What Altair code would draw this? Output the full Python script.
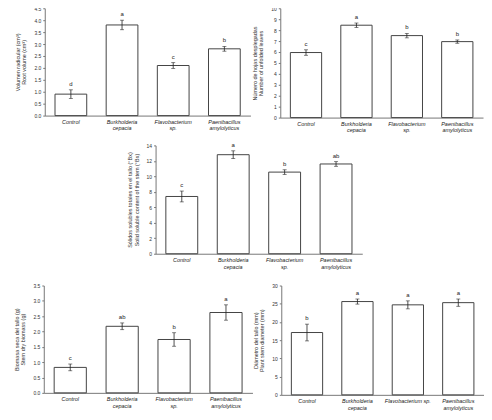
import altair as alt
import pandas as pd

FONT = "Liberation Sans"

labels_a = ["Control", "Burkholderia|cepacia", "Flavobacterium|sp.", "Paenibacillus|amylolyticus"]
labels_b = ["Control", "Burkholderia|cepacia", "Flavobacterium sp.", "Paenibacillus|amylolyticus"]

root_vol = [0.9, 3.8, 2.1, 2.8]
root_err = [0.18, 0.2, 0.12, 0.1]
root_let = ["d", "a", "c", "b"]

leaves = [5.95, 8.45, 7.5, 6.95]
leaves_err = [0.25, 0.2, 0.2, 0.15]
leaves_let = ["c", "a", "b", "b"]

brix = [7.4, 12.8, 10.55, 11.6]
brix_err = [0.7, 0.5, 0.3, 0.3]
brix_let = ["c", "a", "b", "ab"]

biomass = [0.83, 2.17, 1.74, 2.62]
biomass_err = [0.11, 0.11, 0.22, 0.25]
biomass_let = ["c", "ab", "b", "a"]

diam = [17.1, 25.6, 24.7, 25.3]
diam_err = [2.3, 0.7, 1.1, 1.0]
diam_let = ["b", "a", "a", "a"]

y_ticks = {
    "root": [0, 0.5, 1, 1.5, 2, 2.5, 3, 3.5, 4, 4.5],
    "leaves": [0, 1, 2, 3, 4, 5, 6, 7, 8, 9, 10],
    "brix": [0, 2, 4, 6, 8, 10, 12, 14],
    "biomass": [0, 0.5, 1, 1.5, 2, 2.5, 3, 3.5],
    "diam": [0, 5, 10, 15, 20, 25, 30],
}


def panel(labels, vals, errs, lets, title, ticks, width, height):
    df = pd.DataFrame({
        "cat": labels,
        "v": vals,
        "lo": [v - e for v, e in zip(vals, errs)],
        "hi": [v + e for v, e in zip(vals, errs)],
        "let": lets,
    })
    dmax = ticks[-1]
    xscale = alt.Scale(paddingInner=0.38, paddingOuter=0.2)
    yscale = alt.Scale(domain=[0, dmax], nice=False)
    xaxis = alt.Axis(labelAngle=0, labelFont=FONT, labelFontSize=5.5,
                     labelFontStyle="italic", labelColor="#222",
                     labelExpr="split(datum.label, '|')",
                     ticks=False, domainColor="#777", labelPadding=4,
                     labelLineHeight=6.5, labelOverlap=False)
    yaxis = alt.Axis(values=ticks, grid=False, labelOverlap=False,
                     labelFont=FONT, labelFontSize=5, labelColor="#333",
                     tickSize=2, tickColor="#777", domainColor="#777",
                     labelPadding=2, titleFont=FONT, titleFontSize=5.5,
                     titleFontWeight="normal", titleColor="#333",
                     titlePadding=7, titleLineHeight=6.5)
    x = alt.X("cat:N", sort=labels, title=None, scale=xscale, axis=xaxis)
    y = alt.Y("v:Q", title=title, scale=yscale, axis=yaxis)
    ylo = alt.Y("lo:Q", title=title, scale=yscale, axis=yaxis)
    yhi = alt.Y("hi:Q", title=title, scale=yscale, axis=yaxis)
    base = alt.Chart(df)
    bars = base.mark_bar(fill="white", stroke="#444", strokeWidth=1).encode(x=x, y=y)
    rule = base.mark_rule(color="#222", strokeWidth=0.8).encode(x=x, y=ylo, y2="hi:Q")
    cap_lo = base.mark_tick(color="#222", size=4, thickness=0.8, orient="horizontal").encode(x=x, y=ylo)
    cap_hi = base.mark_tick(color="#222", size=4, thickness=0.8, orient="horizontal").encode(x=x, y=yhi)
    txt = base.mark_text(font=FONT, fontSize=6, dy=-6, color="#222").encode(x=x, y=yhi, text="let:N")
    return alt.layer(bars, rule, cap_lo, cap_hi, txt).properties(width=width, height=height)


p1 = panel(labels_a, root_vol, root_err, root_let,
           ["Volumen radicular (cm³)", "Root volume (cm³)"], y_ticks["root"], 207, 108)
p2 = panel(labels_a, leaves, leaves_err, leaves_let,
           ["Número de hojas desplegadas", "Number of unfolded leaves"], y_ticks["leaves"], 204, 110)
p3 = panel(labels_a, brix, brix_err, brix_let,
           ["Sólidos solubles totales en el tallo (°Bx)", "Solid soluble content of the stem (°Bx)"],
           y_ticks["brix"], 208, 109)
p4 = panel(labels_a, biomass, biomass_err, biomass_let,
           ["Biomasa seca del tallo (g)", "Stem dry biomass (g)"], y_ticks["biomass"], 210, 108)
p5 = panel(labels_b, diam, diam_err, diam_let,
           ["Diámetro del tallo (mm)", "Plant stem diameter (mm)"], y_ticks["diam"], 204, 110)

spacer = (alt.Chart(pd.DataFrame({"s": [0]}))
          .mark_point(opacity=0)
          .encode(x=alt.X("s:Q", axis=None), y=alt.Y("s:Q", axis=None))
          .properties(width=10, height=10))

row1 = alt.hconcat(p1, p2, spacing=1)
row2 = alt.hconcat(p3, spacer, spacing=0)
row3 = alt.hconcat(p4, p5, spacing=0)

top = alt.vconcat(row1, row2, spacing=8, center=True)
chart = (alt.vconcat(top, row3, spacing=14, center=True)
         .configure_view(stroke=None)
         .properties(padding={"left": 6, "top": -3, "right": 0, "bottom": 0}))

chart.save("out.html", embed_options={"renderer": "svg", "actions": False})
